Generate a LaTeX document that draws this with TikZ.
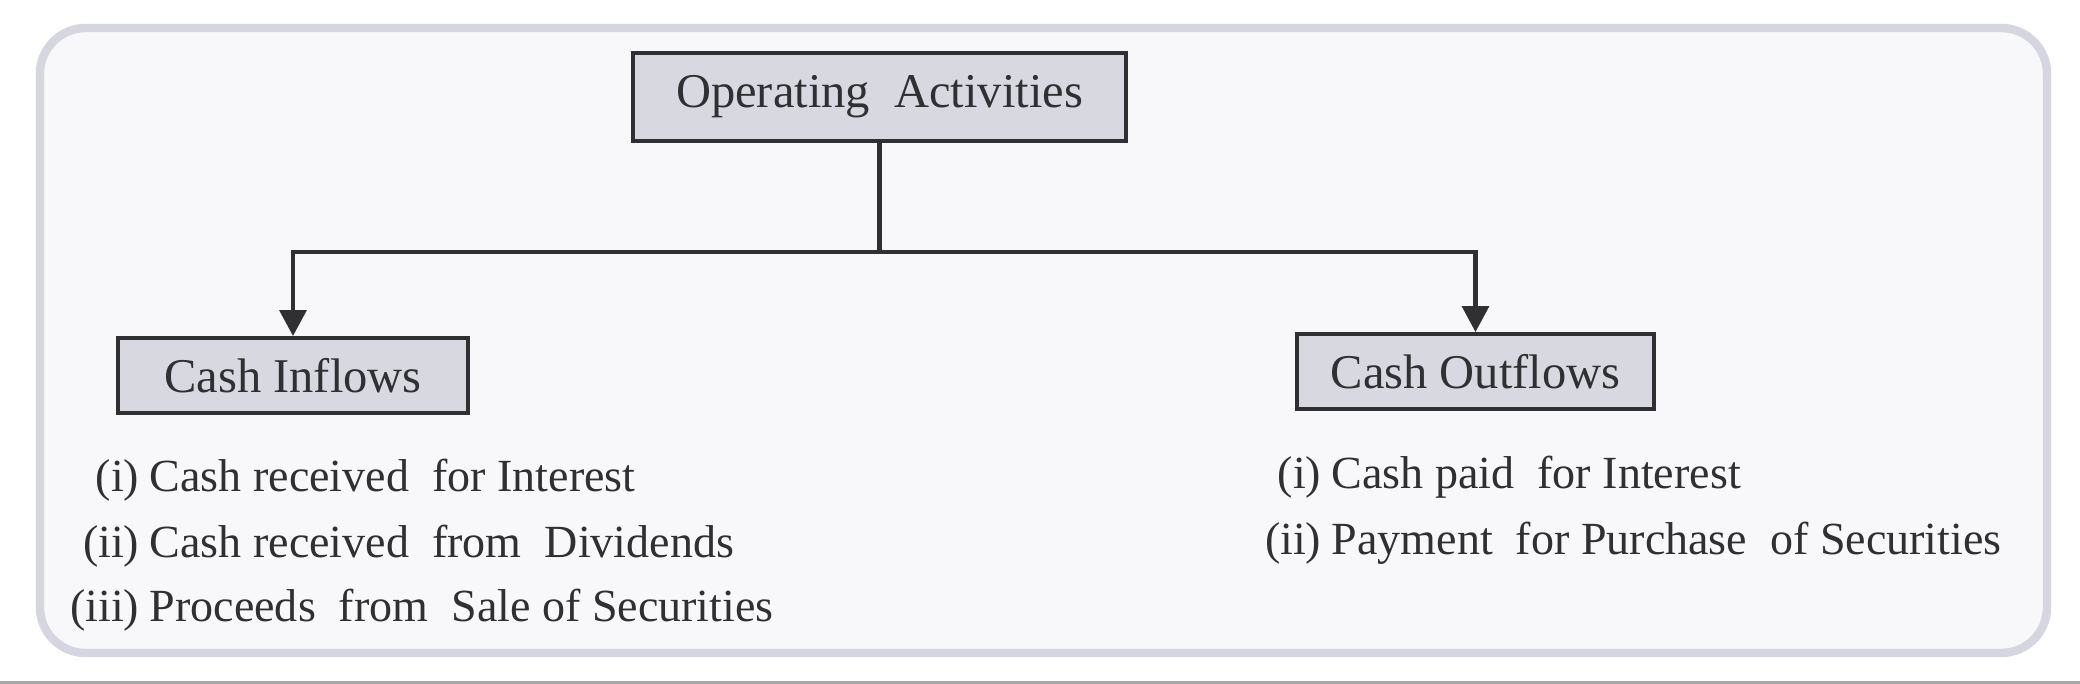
\documentclass[tikz,border=0pt]{standalone}
\usepackage{fontspec}
\setmainfont{Liberation Serif}
\usetikzlibrary{arrows.meta,positioning}

\definecolor{boxfill}{RGB}{216,216,224}
\definecolor{inkgray}{RGB}{48,48,50}
\definecolor{framegray}{RGB}{214,214,224}
\definecolor{paper}{RGB}{248,248,251}

\begin{document}
\begin{tikzpicture}[>={Triangle[width=7.6pt,length=7.4pt]}, font=\fontsize{13.1}{15}\selectfont, text=inkgray]
	    \tikzstyle{head}=[draw=inkgray, line width=1.1pt, fill=boxfill, inner sep=0pt, font=\fontsize{13.8}{16}\selectfont]
	    \tikzstyle{item}=[inner sep=0pt]
	    \tikzstyle{link}=[draw=inkgray, line width=1.2pt]

	    % page and frame
	    \useasboundingbox[fill=white] (0,0) rectangle (20.8,6.84);
	    \fill[black!35] (0,0) rectangle (20.8,0.03);
	    \draw[framegray, line width=2.4pt, fill=paper, rounded corners=13pt] (0.40,0.31) rectangle (20.47,6.56);

	    % boxes
	    \node[head, minimum width=4.93cm, minimum height=0.88cm] (operating) at (8.795,5.87) {Operating\ \ Activities};
	    \node[head, minimum width=3.50cm, minimum height=0.75cm] (inflows) at (2.93,3.085) {Cash Inflows};
	    \node[head, minimum width=3.57cm, minimum height=0.75cm] (outflows) at (14.755,3.125) {Cash Outflows};
	    \coordinate (split) at (8.795,4.32);

	    % inflow items
	    \node[item, anchor=base east] (in one)   at (1.40,1.92) {(i)};
	    \node[item] (in one t) [right=0.09cm of in one.base east, anchor=base west] {Cash received\ \ for Interest};
	    \node[item, anchor=base east] (in two)   at (1.40,1.26) {(ii)};
	    \node[item] (in two t) [right=0.09cm of in two.base east, anchor=base west] {Cash received\ \ from\ \ Dividends};
	    \node[item, anchor=base east] (in three) at (1.40,0.62) {(iii)};
	    \node[item] (in three t) [right=0.09cm of in three.base east, anchor=base west] {Proceeds\ \ from\ \ Sale of Securities};

	    % outflow items
	    \node[item, anchor=base east] (out one) at (13.22,1.95) {(i)};
	    \node[item] (out one t) [right=0.09cm of out one.base east, anchor=base west] {Cash paid\ \ for Interest};
	    \node[item, anchor=base east] (out two) at (13.22,1.29) {(ii)};
	    \node[item] (out two t) [right=0.09cm of out two.base east, anchor=base west] {Payment\ \ for Purchase\ \ of Securities};

	    % connectors
	    \draw[link] (operating.south) -- (split);
	    \draw[link, ->] (split) -| (inflows.north);
	    \draw[link, ->] (split) -| (outflows.north);
\end{tikzpicture}
\end{document}
